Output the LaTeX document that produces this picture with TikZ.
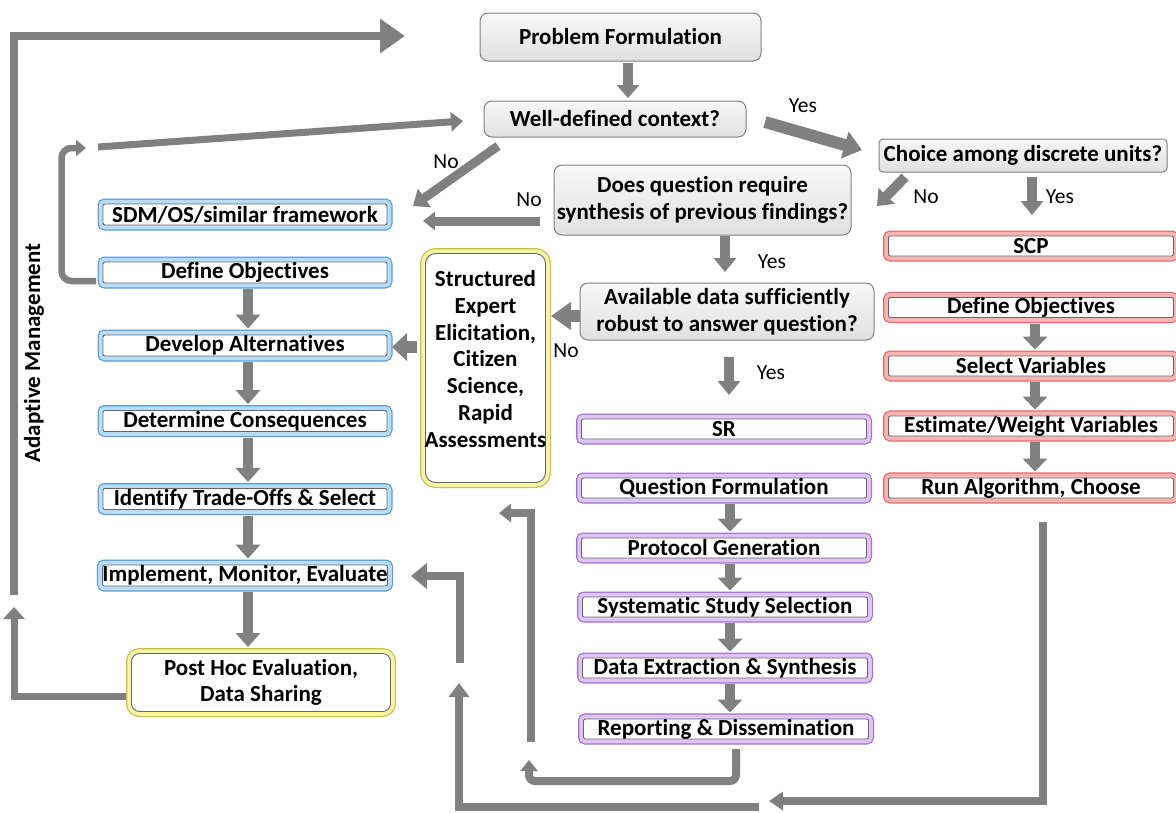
\documentclass[tikz,border=0pt]{standalone}
\usepackage{fontspec}
\setmainfont{Carlito}[Ligatures=NoCommon]
\usetikzlibrary{arrows.meta}
\definecolor{arr}{HTML}{808080}
\definecolor{blueedge}{HTML}{5B9BD5}
\definecolor{bluefill}{HTML}{B9DDF7}
\definecolor{rededge}{HTML}{E06C6C}
\definecolor{redfill}{HTML}{F7B4B4}
\definecolor{puredge}{HTML}{A070D0}
\definecolor{purfill}{HTML}{E0C4F5}
\definecolor{yeledge}{HTML}{C8C050}
\definecolor{yelfill}{HTML}{F7F4A6}
\tikzset{
  boxfont/.style={font=\bfseries\fontsize{23}{26.7}\selectfont},
  lblfont/.style={font=\fontsize{21.5}{24}\selectfont},
  ring/.style 2 args={boxfont, inner sep=0pt, align=center, draw=black!60, line width=0.9pt,
     fill=white, rounded corners=2pt,
     preaction={draw=#1, line width=11pt},
     preaction={draw=#2, line width=8.5pt}},
  bluebox/.style={ring={blueedge}{bluefill}, minimum width=284pt, minimum height=21pt},
  redbox/.style={ring={rededge}{redfill}, minimum width=285pt, minimum height=20pt},
  purbox/.style={ring={puredge}{purfill}, minimum width=285pt, minimum height=20pt},
  yelbox/.style={ring={yeledge}{yelfill}, rounded corners=10pt},
  graybox/.style={boxfont, inner sep=0pt, align=center, draw=black!50, line width=1pt,
     rounded corners=8pt, top color=black!3, bottom color=black!12},
  conn/.style={draw=arr, line width=#1},
  tip/.style 2 args={-{Triangle[width=#1pt,length=#2pt]}},
  lbl/.style={lblfont, inner sep=0pt},
}
\begin{document}
\begin{tikzpicture}[x=1pt,y=-1pt]
\useasboundingbox (0,0) rectangle (1176,812);

% gray decision boxes
\node[graybox, minimum width=281pt, minimum height=48pt] (pf) at (620.5,37) {Problem Formulation};
\node[graybox, minimum width=262pt, minimum height=36pt] (wdc) at (615,119) {Well-defined context?};
\node[graybox, minimum width=288pt, minimum height=33pt, rounded corners=4pt] (choice) at (1023,155.5) {Choice among discrete units?};
\node[graybox, minimum width=297pt, minimum height=70pt] (dq) at (702.5,200) {Does question require\\synthesis of previous findings?};
\node[graybox, minimum width=294pt, minimum height=57pt] (avail) at (727,311.5) {Available data sufficiently\\robust to answer question?};

% blue column
\node[bluebox] (sdm) at (245,214.5) {SDM/OS/similar framework};
\node[bluebox] (dob) at (245,272.5) {Define Objectives};
\node[bluebox] (dalt) at (245,345.5) {Develop Alternatives};
\node[bluebox] (dcon) at (245,421) {Determine Consequences};
\node[bluebox] (itr) at (245,499) {Identify Trade-Offs \& Select};
\node[bluebox] (imp) at (245,575.5) {Implement, Monitor, Evaluate};

% yellow boxes
\node[yelbox, minimum width=120pt, minimum height=229pt] (see) at (485.5,368) {};
\node[boxfont, align=center, inner sep=0pt] (seet) at (485.5,359) {Structured\\Expert\\Elicitation,\\Citizen\\Science,\\Rapid\\Assessments};
\node[yelbox, minimum width=259pt, minimum height=58pt, rounded corners=8pt] (phe) at (261,682.5) {Post Hoc Evaluation,\\Data Sharing};

% red column
\node[redbox] (scp) at (1031,246) {SCP};
\node[redbox] (rdo) at (1031,307.5) {Define Objectives};
\node[redbox] (rsv) at (1031,366) {Select Variables};
\node[redbox] (rest) at (1031,426) {Estimate/Weight Variables};
\node[redbox] (rrun) at (1031,488) {Run Algorithm, Choose};

% purple column
\node[purbox] (sr) at (724,429) {SR};
\node[purbox] (qf) at (724,488) {Question Formulation};
\node[purbox] (pg) at (724,548) {Protocol Generation};
\node[purbox] (sss) at (725,607) {Systematic Study Selection};
\node[purbox] (des) at (725,668) {Data Extraction \& Synthesis};
\node[purbox] (rd) at (726,729) {Reporting \& Dissemination};

% labels
\node[lbl] (y1) at (803,106) {Yes};
\node[lbl] (n1) at (446,162) {No};
\node[lbl] (n2) at (529,200) {No};
\node[lbl] (n3) at (926,197) {No};
\node[lbl] (y2) at (1060,197) {Yes};
\node[lbl] (y3) at (772,262) {Yes};
\node[lbl] (n4) at (566,351) {No};
\node[lbl] (y4) at (771,373) {Yes};
\node[boxfont, rotate=90, inner sep=0pt] (am) at (34,353) {Adaptive Management};

% connector coordinates
\coordinate (a1) at (628,63);   \coordinate (a1e) at (628,98);
\coordinate (a2) at (98,147);   \coordinate (a2e) at (463,121);
\coordinate (a3) at (96,281);   \coordinate (a3m) at (61.5,281); \coordinate (a3n) at (61.5,148); \coordinate (a3e) at (86,148);
\coordinate (a4) at (498,146);  \coordinate (a4e) at (413,206);
\coordinate (a5) at (540,221);  \coordinate (a5e) at (423,221);
\coordinate (a6) at (765,122);  \coordinate (a6e) at (862,150);
\coordinate (a7) at (905,177);  \coordinate (a7e) at (877,206);
\coordinate (a8) at (1032,177); \coordinate (a8e) at (1032,215);
\coordinate (a9) at (725,236);  \coordinate (a9e) at (725,272);
\coordinate (a10) at (580,316); \coordinate (a10e) at (551,316);
\coordinate (a11) at (417,347); \coordinate (a11e) at (392,347);
\coordinate (a12) at (729,357); \coordinate (a12e) at (729,395);

\draw[conn=10, tip={22}{13}] (a1) -- (a1e);
\draw[conn=7, tip={19}{12}] (a2) -- (a2e);
\draw[conn=6.5, rounded corners=10pt, tip={16}{10}] (a3) -- (a3m) -- (a3n) -- (a3e);
\draw[conn=9, tip={22}{14}] (a4) -- (a4e);
\draw[conn=9, tip={18}{12}] (a5) -- (a5e);
\draw[conn=12, tip={27}{18}] (a6) -- (a6e);
\draw[conn=10, tip={22}{14}] (a7) -- (a7e);
\draw[conn=10, tip={22}{14}] (a8) -- (a8e);
\draw[conn=10, tip={22}{14}] (a9) -- (a9e);
\draw[conn=12, tip={27}{20}] (a10) -- (a10e);
\draw[conn=12, tip={27}{15}] (a11) -- (a11e);
\draw[conn=10, tip={22}{14}] (a12) -- (a12e);

% chains
\foreach \u/\v in {dob/dalt, dalt/dcon, dcon/itr, itr/imp, imp/phe}
  \draw[conn=10, tip={24}{14}] ([yshift=-6pt]\u.south -| 248,0) -- ([yshift=6pt]\v.north -| 248,0);
\foreach \u/\v in {rdo/rsv, rsv/rest, rest/rrun}
  \draw[conn=10, tip={24}{13}] ([yshift=-6pt]\u.south -| 1035,0) -- ([yshift=6pt]\v.north -| 1035,0);
\foreach \u/\v in {qf/pg, pg/sss, sss/des, des/rd}
  \draw[conn=10, tip={24}{13}] ([yshift=-6pt]\u.south -| 730,0) -- ([yshift=6pt]\v.north -| 730,0);

% long loops
\coordinate (b1) at (736,749); \coordinate (b1m) at (736,781); \coordinate (b1n) at (529,781); \coordinate (b1e) at (529,760);
\draw[conn=8, rounded corners=6pt, tip={17}{11}] (b1) -- (b1m) -- (b1n) -- (b1e);
\coordinate (b2) at (531,742); \coordinate (b2m) at (531,513); \coordinate (b2e) at (499,513);
\draw[conn=8, tip={18}{12}] (b2) -- (b2m) -- (b2e);
\coordinate (c1) at (1043,522); \coordinate (c1m) at (1043,801); \coordinate (c1e) at (769,801);
\draw[conn=8, tip={18}{14}] (c1) -- (c1m) -- (c1e);
\coordinate (c2) at (759,807); \coordinate (c2m) at (459,807); \coordinate (c2e) at (459,683);
\draw[conn=8, tip={20}{14}] (c2) -- (c2m) -- (c2e);
\coordinate (c3) at (460,663); \coordinate (c3m) at (460,576); \coordinate (c3e) at (411,576);
\draw[conn=8, tip={25}{16}] (c3) -- (c3m) -- (c3e);
\coordinate (d1) at (126,696); \coordinate (d1m) at (14,696); \coordinate (d1e) at (14,607);
\draw[conn=7, tip={21}{12}] (d1) -- (d1m) -- (d1e);
\coordinate (d2) at (14,595); \coordinate (d2m) at (14,36); \coordinate (d2e) at (405,36);
\draw[conn=8, tip={33}{25}] (d2) -- (d2m) -- (d2e);
\end{tikzpicture}
\end{document}
